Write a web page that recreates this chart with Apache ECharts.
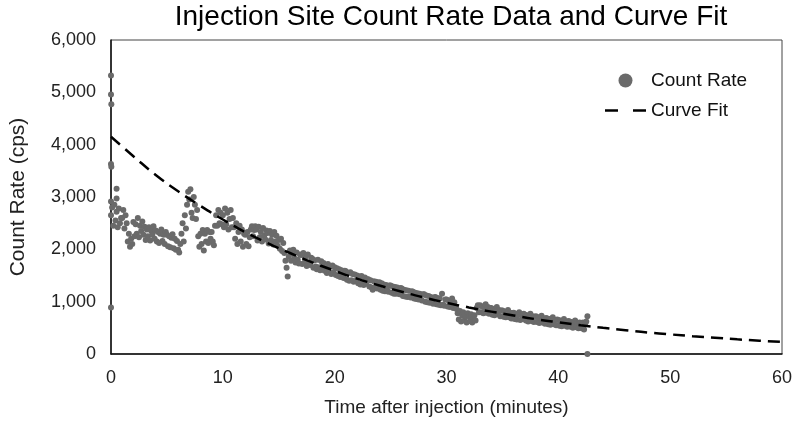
<!DOCTYPE html>
<html><head><meta charset="utf-8">
<script src="https://cdn.jsdelivr.net/npm/echarts@6/dist/echarts.min.js"></script>
<style>html,body{margin:0;padding:0;background:#fff}#c{width:800px;height:422px}</style>
</head><body><div id="c"></div>
<script>
// Sampled count rate (cps), one sample every 0.1 min starting at t = 0
const sampleStepMin = 0.1;
const countRate = [
  2650,2800,2450,2850,2550,2720,2420,2780,2500,2600,
  2600,2750,2400,2650,2500,2150,2300,2050,2200,2100,
  2520,2250,2480,2300,2600,2230,2450,2350,2530,2280,
  2430,2180,2380,2250,2420,2170,2350,2280,2440,2200,
  2360,2150,2330,2120,2300,2380,2160,2280,2100,2330,
  2280,2060,2250,2040,2220,2290,2020,2200,1990,2160,
  1990,1940,2100,2300,2500,2150,2650,2400,2850,3100,
  2950,3150,2700,2600,3000,2850,2580,2750,2250,2050,
  2300,2100,2370,1980,2300,2150,2370,2120,2330,2200,
  2330,2150,2080,2450,2650,2450,2750,2500,2700,2480,
  2650,2420,2780,2480,2700,2380,2580,2750,2420,2600,
  2420,2200,2500,2100,2330,2450,2150,2380,2050,2300,
  2280,2100,2330,2060,2230,2380,2440,2250,2370,2440,
  2380,2170,2430,2230,2330,2150,2410,2260,2190,2360,
  2310,2110,2350,2180,2280,2090,2330,2150,2260,2070,
  2180,2010,2200,1970,2120,1930,1780,1650,1480,1860,
  1980,1780,1920,1990,1830,1750,1940,1800,1730,1900,
  1890,1720,1930,1750,1860,1680,1900,1730,1700,1840,
  1820,1650,1790,1670,1620,1800,1660,1600,1770,1640,
  1740,1590,1700,1550,1720,1570,1680,1530,1690,1560,
  1660,1510,1640,1490,1620,1470,1600,1500,1450,1590,
  1580,1420,1550,1400,1560,1410,1530,1380,1520,1400,
  1500,1350,1480,1330,1490,1360,1320,1460,1340,1430,
  1430,1290,1410,1270,1230,1390,1260,1380,1250,1360,
  1370,1230,1350,1210,1330,1200,1320,1220,1190,1310,
  1310,1170,1290,1150,1280,1150,1270,1160,1140,1260,
  1250,1110,1230,1100,1220,1090,1210,1100,1080,1200,
  1190,1060,1170,1050,1160,1040,1150,1050,1020,1140,
  1140,1000,1120,990,1110,980,1090,990,960,1080,
  1090,950,1070,940,1060,930,1150,940,920,1040,
  1040,910,1020,900,1000,1060,880,990,890,860,
  780,660,820,620,740,800,640,720,600,780,
  720,630,760,600,700,740,640,880,930,800,
  930,800,910,780,890,950,790,900,770,880,
  880,750,860,740,850,900,760,840,720,830,
  830,710,810,700,800,840,700,790,680,780,
  790,670,770,660,760,800,650,750,670,770,
  750,640,740,620,730,770,630,720,610,710,
  720,610,700,590,690,730,600,680,580,690,
  680,570,670,560,660,700,570,650,550,660,
  650,540,640,530,630,670,540,620,520,630,
  620,520,610,500,600,640,510,590,490,600,
  590,490,600,470,580,620
];
// Isolated points (outliers)
const extraTimes  = [0, 0, 0.03, 0, 0.03, 0, 0.5, 0.5, 0, 42.6, 42.6];
const extraCounts = [5320, 4960, 4770, 3630, 3580, 890, 3160, 2970, 2915, 720, 0];
// Curve fit
const fitTimes  = [0,2,4,6,8,10,12,14,16,18,20,22,24,26,28,30,32,34,36,38,40,42,44,46,48,50,52,54,56,58,60];
const fitCounts = [4150,3780,3420,3110,2830,2570,2330,2120,1930,1750,1590,1440,1310,1190,1080,980,890,810,735,665,605,550,500,455,410,375,340,310,280,255,230];
const yTickLabels = ['0','1,000','2,000','3,000','4,000','5,000','6,000'];

const scatterData = countRate.map((v, i) => [+(i * sampleStepMin).toFixed(2), v])
  .concat(extraTimes.map((t, i) => [t, extraCounts[i]]));
const fitData = fitTimes.map((t, i) => [t, fitCounts[i]]);

const chart = echarts.init(document.getElementById('c'), null, {renderer: 'canvas'});
chart.setOption({
  animation: false,
  backgroundColor: '#fff',
  title: {
    text: 'Injection Site Count Rate Data and Curve Fit',
    left: 446, top: -2, textAlign: 'center',
    textStyle: {fontFamily: 'Liberation Sans', fontSize: 28, fontWeight: 'normal', color: '#000'}
  },
  legend: {
    orient: 'vertical', left: 600, top: 66,
    itemWidth: 41, itemHeight: 14, itemGap: 11,
    textStyle: {fontFamily: 'Liberation Sans', fontSize: 19, color: '#111'},
    data: [
      {name: 'Count Rate', icon: 'circle'},
      {name: 'Curve Fit', icon: 'path://M0,0H13V2.6H0Z M28,0H41V2.6H28Z'}
    ]
  },
  grid: {left: 108, right: 18, top: 40, bottom: 65, show: true, borderColor: '#444', borderWidth: 1},
  xAxis: {
    type: 'value', min: 0, max: 60, interval: 10,
    name: 'Time after injection (minutes)', nameLocation: 'middle', nameGap: 44,
    nameTextStyle: {fontFamily: 'Liberation Sans', fontSize: 19, color: '#222'},
    axisLine: {show: true, lineStyle: {color: '#111', width: 1.5}},
    axisTick: {show: false}, splitLine: {show: false},
    axisLabel: {fontFamily: 'Liberation Sans', fontSize: 18, color: '#222', margin: 15}
  },
  yAxis: {
    type: 'value', min: 0, max: 6000, interval: 1000,
    name: 'Count Rate (cps)', nameLocation: 'middle', nameGap: 82,
    nameTextStyle: {fontFamily: 'Liberation Sans', fontSize: 21, color: '#222'},
    axisLine: {show: true, lineStyle: {color: '#111', width: 1.5}},
    axisTick: {show: false}, splitLine: {show: false},
    axisLabel: {fontFamily: 'Liberation Sans', fontSize: 18, color: '#222', margin: 15,
      formatter: v => yTickLabels[Math.round(v / 1000)]}
  },
  series: [
    {name: 'Count Rate', type: 'scatter', data: scatterData, symbol: 'circle', symbolSize: 6,
     itemStyle: {color: '#6a6a6a', opacity: 1}},
    {name: 'Curve Fit', type: 'line', data: fitData, smooth: true, symbol: 'none', showSymbol: false,
     lineStyle: {color: '#000', width: 2.5, type: [12, 7]}, itemStyle: {color: '#000'}}
  ]
});
</script></body></html>
